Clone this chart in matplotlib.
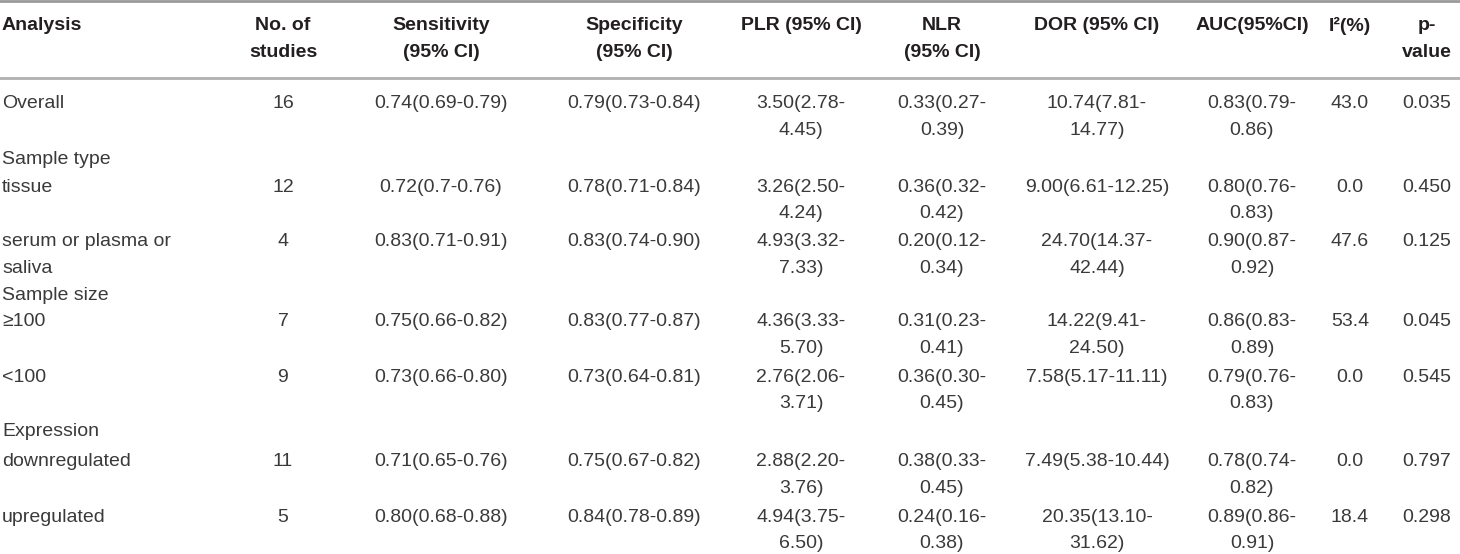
import matplotlib.pyplot as plt

# table content
headers = ["Analysis", "No. of\nstudies", "Sensitivity\n(95% CI)", "Specificity\n(95% CI)",
           "PLR (95% CI)", "NLR\n(95% CI)", "DOR (95% CI)", "AUC(95%CI)", "I²(%)", "p-\nvalue"]

analysis = ["Overall", "Sample type", "tissue", "serum or plasma or\nsaliva", "Sample size",
            "≥100", "<100", "Expression", "downregulated", "upregulated"]
n_studies = ["16", "", "12", "4", "", "7", "9", "", "11", "5"]
sensitivity = ["0.74(0.69-0.79)", "", "0.72(0.7-0.76)", "0.83(0.71-0.91)", "",
               "0.75(0.66-0.82)", "0.73(0.66-0.80)", "", "0.71(0.65-0.76)", "0.80(0.68-0.88)"]
specificity = ["0.79(0.73-0.84)", "", "0.78(0.71-0.84)", "0.83(0.74-0.90)", "",
               "0.83(0.77-0.87)", "0.73(0.64-0.81)", "", "0.75(0.67-0.82)", "0.84(0.78-0.89)"]
plr = ["3.50(2.78-\n4.45)", "", "3.26(2.50-\n4.24)", "4.93(3.32-\n7.33)", "",
       "4.36(3.33-\n5.70)", "2.76(2.06-\n3.71)", "", "2.88(2.20-\n3.76)", "4.94(3.75-\n6.50)"]
nlr = ["0.33(0.27-\n0.39)", "", "0.36(0.32-\n0.42)", "0.20(0.12-\n0.34)", "",
       "0.31(0.23-\n0.41)", "0.36(0.30-\n0.45)", "", "0.38(0.33-\n0.45)", "0.24(0.16-\n0.38)"]
dor = ["10.74(7.81-\n14.77)", "", "9.00(6.61-12.25)", "24.70(14.37-\n42.44)", "",
       "14.22(9.41-\n24.50)", "7.58(5.17-11.11)", "", "7.49(5.38-10.44)", "20.35(13.10-\n31.62)"]
auc = ["0.83(0.79-\n0.86)", "", "0.80(0.76-\n0.83)", "0.90(0.87-\n0.92)", "",
       "0.86(0.83-\n0.89)", "0.79(0.76-\n0.83)", "", "0.78(0.74-\n0.82)", "0.89(0.86-\n0.91)"]
i2 = ["43.0", "", "0.0", "47.6", "", "53.4", "0.0", "", "0.0", "18.4"]
p_value = ["0.035", "", "0.450", "0.125", "", "0.045", "0.545", "", "0.797", "0.298"]

columns = [analysis, n_studies, sensitivity, specificity, plr, nlr, dor, auc, i2, p_value]

# layout (pixel coordinates)
col_x = [2, 283, 441, 634, 801, 942, 1097, 1252, 1350, 1427]
col_ha = ["left"] + ["center"] * 9
row_y = [104, 160, 187, 242, 295, 322, 377, 432, 462, 517]
line_h = 26.5

fig = plt.figure(figsize=(14.6, 5.54), dpi=100)
ax = fig.add_axes([0, 0, 1, 1])
ax.set_xlim(0, 1460)
ax.set_ylim(554, 0)
ax.axis("off")

font = "Liberation Sans"
fs = 14


def put_cell(x, y, cell, ha, **kw):
    # one text per line so each line sits on the shared line grid
    for k, line in enumerate(cell.split("\n")):
        ax.text(x, y + k * line_h, line, ha=ha, va="center", fontsize=fs,
                family=font, **kw)


for x, ha, h in zip(col_x, col_ha, headers):
    put_cell(x, 26, h, ha, fontweight="bold", color="#231f20")

for x, ha, col in zip(col_x, col_ha, columns):
    for y, cell in zip(row_y, col):
        if cell:
            put_cell(x, y, cell, ha, color="#3a3a3a")

ax.axhline(1, color="#9a9a9a", lw=2)
ax.axhline(78, color="#b0b0b0", lw=2)

fig.savefig("out.png", dpi=100)
